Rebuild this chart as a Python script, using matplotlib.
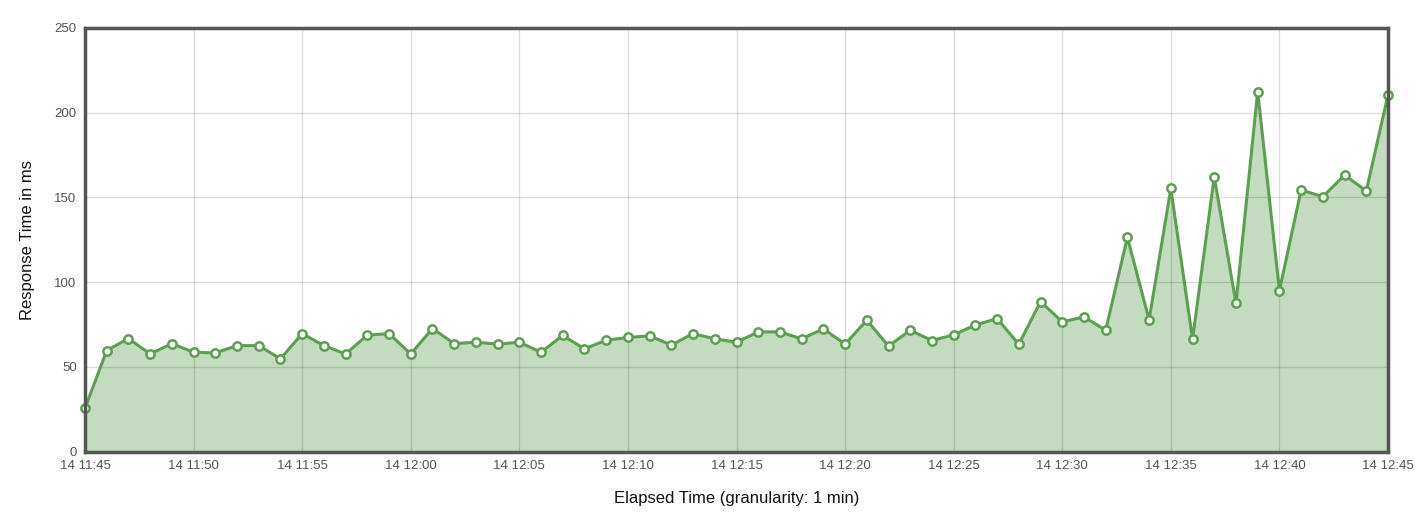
import matplotlib
matplotlib.use("Agg")
import matplotlib.pyplot as plt
import matplotlib.dates as mdates
import numpy as np
from datetime import datetime, timedelta

start = datetime(2024, 1, 14, 11, 45)
minutes = list(range(61))
response_ms = [
    25.5, 59.6, 66.7, 57.6, 63.7, 58.6, 58.2, 62.5, 62.5, 54.7,
    69.6, 62.5, 57.6, 68.7, 69.6, 57.6, 72.6, 63.7, 64.5, 63.4,
    64.5, 58.6, 68.5, 60.6, 65.7, 67.3, 68.3, 62.8, 69.6, 66.5,
    64.5, 70.6, 70.6, 66.5, 72.4, 63.4, 77.5, 62.2, 71.6, 65.5,
    68.9, 74.6, 78.5, 63.3, 88.5, 76.5, 79.5, 71.6, 126.4, 77.7,
    155.3, 66.3, 162.2, 87.4, 212.5, 95.0, 154.4, 150.4, 163.2, 153.8,
    210.5,
]
times = [start + timedelta(minutes=m) for m in minutes]
y_ticks = [0, 50, 100, 150, 200, 250]

plt.rcParams['font.family'] = ['Liberation Sans', 'DejaVu Sans']

fig = plt.figure(figsize=(14.26, 5.22), dpi=100)
ax = fig.add_axes([85/1426, 1-451.5/522, (1388-85)/1426, (451.5-28)/522])

line_c = '#5d9f52'
fill_c = '#c3dcbf'
ax.fill_between(times, response_ms, 0, color=fill_c, zorder=1, linewidth=0)
ax.plot(times, response_ms, color=line_c, linewidth=2.2, zorder=3,
        marker='o', markersize=6, markerfacecolor='white',
        markeredgecolor=line_c, markeredgewidth=1.8, clip_on=False)

ax.set_xlim(times[0], times[-1])
ax.set_ylim(0, 250)
ax.set_yticks(y_ticks)
ax.xaxis.set_major_locator(mdates.MinuteLocator(byminute=range(0, 60, 5)))
ax.xaxis.set_major_formatter(mdates.DateFormatter('14 %H:%M'))

ax.grid(True, color='#000000', alpha=0.13, linewidth=1, zorder=2)
ax.set_axisbelow(False)
for s in ax.spines.values():
    s.set_color('#555555')
    s.set_linewidth(2.5)
    s.set_zorder(4)
ax.tick_params(axis='both', length=0, labelsize=9.5, colors='#545454', pad=6)

ax.set_ylabel('Response Time in ms', fontsize=12, color='#111111', labelpad=14)
ax.set_xlabel('Elapsed Time (granularity: 1 min)', fontsize=12, color='#111111', labelpad=14)

fig.savefig('out.png', dpi=100)
